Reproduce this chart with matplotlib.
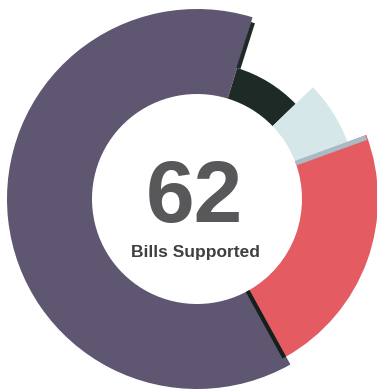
import numpy as np
import matplotlib.pyplot as plt

# bill support breakdown, drawn clockwise from the top
segments = ["Opposed", "Neutral", "Amended", "Supported"]
counts = [5, 4, 14, 39]
colors = ["#1d2a26", "#d6e7ea", "#e45c62", "#5f5672"]
outer_r = [137, 161, 181, 190]
inner_r = 105
total_label = "62"
caption = "Bills Supported"

cx, cy = 197, 192
start = 73


def edge_angle(i):
    # angle of the boundary after the i-th wedge (clockwise)
    return start - 360 * sum(counts[:i + 1]) / sum(counts)


def radial_line(ax, ang, r0, r1, **kw):
    t = np.deg2rad(ang)
    ax.plot([cx + r0 * np.cos(t), cx + r1 * np.cos(t)],
            [cy + r0 * np.sin(t), cy + r1 * np.sin(t)],
            solid_capstyle="butt", **kw)


fig = plt.figure(figsize=(3.77, 3.91), dpi=100)
ax = fig.add_axes([0, 0, 1, 1])

wedges, _ = ax.pie(counts, colors=colors, startangle=start, counterclock=False,
                   center=(cx, cy), radius=190, frame=True)
for w, r in zip(wedges, outer_r):
    w.set_radius(r)
    w.set_width(r - inner_r)

# shading along the red wedge's edges
radial_line(ax, edge_angle(1) - 0.8, inner_r, outer_r[2] - 1, color="#a8bac3", lw=3.5)
radial_line(ax, edge_angle(2) - 0.6, inner_r, outer_r[2], color="#15201c", lw=3)
radial_line(ax, start - 0.6, outer_r[0], outer_r[3] - 5, color="#1d2a26", lw=3)

ax.set_xlim(0, 377)
ax.set_ylim(0, 391)
ax.set_aspect("equal")
ax.axis("off")

ax.text(cx - 3, 169, total_label, ha="center", va="baseline", fontsize=63,
        fontweight="bold", family="Liberation Sans", color="#58585a")
ax.text(cx - 2, 134, caption, ha="center", va="baseline", fontsize=12.5,
        fontweight="bold", family="Liberation Sans", color="#3f3f41")

fig.savefig("out.png", dpi=100)
